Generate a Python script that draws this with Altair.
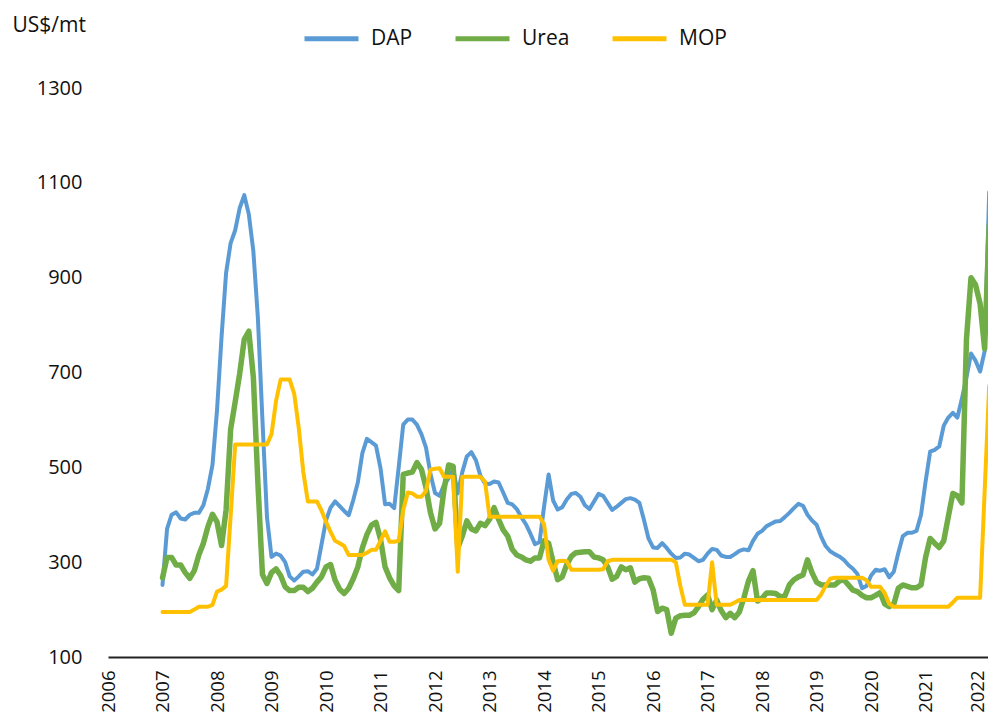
import altair as alt
import pandas as pd

start_year = 2007
series_names = ["DAP", "Urea", "MOP"]
colors = ["#5B9BD5", "#70AD47", "#FFC000"]
year_ticks = list(range(2006, 2023))
y_ticks = [100, 300, 500, 700, 900, 1100, 1300]

# Monthly values, Jan 2007 .. Mar 2022 (US$/mt)
dap = [
    252, 370, 400, 405, 392, 390, 400, 404, 404, 420, 455, 505,        # 2007
    620, 775, 910, 973, 1000, 1047, 1074, 1034, 956, 815, 600, 395,    # 2008
    311, 318, 314, 300, 270, 261, 270, 280, 281, 274, 286, 337,        # 2009
    388, 415, 428, 418, 408, 399, 431, 468, 530, 560, 553, 546,        # 2010
    498, 422, 423, 414, 500, 590, 601, 601, 590, 570, 542, 486,        # 2011
    446, 440, 463, 477, 497, 445, 490, 523, 532, 515, 482, 466,        # 2012
    465, 470, 468, 447, 425, 422, 412, 395, 380, 360, 338, 342,        # 2013
    417, 485, 430, 411, 416, 432, 444, 446, 438, 420, 412, 428,        # 2014
    444, 440, 425, 410, 417, 425, 433, 435, 432, 425, 389, 350,        # 2015
    331, 330, 340, 330, 318, 309, 310, 318, 316, 309, 302, 305,        # 2016
    318, 328, 326, 314, 311, 311, 317, 324, 327, 325, 345, 360,        # 2017
    366, 376, 381, 386, 387, 395, 404, 414, 423, 419, 400, 388,        # 2018
    379, 354, 334, 323, 317, 312, 305, 294, 286, 275, 245, 250,        # 2019
    272, 284, 282, 285, 268, 280, 320, 355, 362, 362, 366, 400,        # 2020
    470, 533, 537, 544, 588, 605, 615, 605, 645, 690, 740, 725,        # 2021
    702, 745, 1080,                                                    # 2022
]
urea = [
    267, 310, 310, 294, 294, 278, 266, 282, 315, 340, 375, 401,
    385, 335, 410, 580, 638, 698, 770, 787, 690, 468, 274, 255,
    278, 286, 272, 248, 240, 240, 247, 247, 238, 245, 258, 269,
    290, 295, 262, 243, 234, 245, 265, 290, 330, 358, 378, 384,
    348, 290, 267, 250, 240, 485, 488, 490, 510, 496, 458, 404,
    370, 382, 455, 505, 502, 330, 355, 387, 370, 366, 382, 377,
    390, 415, 390, 368, 355, 327, 315, 311, 305, 302, 309, 309,
    345, 340, 300, 263, 269, 295, 312, 320, 321, 322, 322, 311,
    309, 305, 290, 264, 270, 290, 284, 288, 258, 265, 267, 266,
    242, 196, 203, 200, 150, 182, 187, 188, 188, 193, 206, 222,
    231, 200, 220, 198, 183, 192, 183, 195, 225, 260, 282, 218,
    224, 235, 235, 234, 227, 228, 252, 263, 269, 273, 305, 278,
    258, 252, 252, 252, 252, 260, 263, 252, 241, 238, 230, 225,
    225, 230, 236, 212, 206, 212, 245, 252, 249, 246, 246, 252,
    310, 350, 340, 331, 345, 396, 445, 440, 425, 770, 900, 885,
    845, 750, 1010,
]
mop = [
    195, 195, 195, 195, 195, 195, 195, 200, 206, 206, 206, 210,
    238, 242, 250, 397, 548, 548, 548, 548, 548, 548, 548, 548,
    570, 640, 685, 685, 685, 655, 583, 490, 428, 428, 428, 409,
    385, 364, 345, 340, 334, 315, 315, 315, 315, 320, 326, 326,
    345, 365, 343, 343, 345, 410, 447, 445, 438, 438, 450, 495,
    497, 498, 480, 480, 480, 280, 480, 480, 480, 480, 480, 470,
    396, 396, 396, 396, 396, 396, 396, 396, 396, 396, 396, 396,
    380, 305, 282, 302, 303, 302, 284, 284, 284, 284, 284, 284,
    284, 285, 302, 305, 305, 305, 305, 305, 305, 305, 305, 305,
    305, 305, 305, 305, 305, 300, 250, 210, 210, 210, 210, 210,
    210, 300, 210, 210, 210, 210, 215, 220, 220, 220, 220, 220,
    220, 220, 220, 220, 220, 220, 220, 220, 220, 220, 220, 220,
    220, 232, 250, 265, 267, 267, 267, 267, 267, 267, 267, 262,
    248, 248, 248, 235, 212, 206, 206, 206, 206, 206, 206, 206,
    206, 206, 206, 206, 206, 206, 215, 225, 225, 225, 225, 225,
    225, 449, 672,
]

rows = []
for name, vals in zip(series_names, [dap, urea, mop]):
    for i, v in enumerate(vals):
        rows.append({"t": start_year + i / 12, "value": v, "series": name})
df = pd.DataFrame(rows)

FONT = "Open Sans"
widths = {"DAP": 4, "Urea": 5.5, "MOP": 4}

color = alt.Color(
    "series:N",
    scale=alt.Scale(domain=series_names, range=colors),
    legend=alt.Legend(
        title=None, orient="none", direction="horizontal",
        legendX=194, legendY=-79, padding=0,
        symbolType="stroke", symbolSize=2916, symbolStrokeWidth=5,
        labelFontSize=21, labelFont=FONT, labelColor="#111", labelOffset=10,
        columnPadding=32,
    ),
)
x = alt.X(
    "t:Q",
    scale=alt.Scale(domain=[2006, 2022.145], nice=False, zero=False),
    axis=alt.Axis(
        values=year_ticks, format="d", labelAngle=-90, labelAlign="right",
        labelBaseline="middle", labelPadding=13, ticks=False, grid=False,
        domainColor="#222", domainWidth=2, labelFontSize=18.5, labelFont=FONT,
        labelColor="#111", title=None, labelFlush=False, labelOverlap=False,
        labelOffset=alt.ExprRef("datum.value == 2022 ? -3 : 0"),
    ),
)
y = alt.Y(
    "value:Q",
    scale=alt.Scale(domain=[100, 1300], nice=False, zero=False),
    axis=alt.Axis(
        values=y_ticks, format="d", ticks=False, grid=False, domain=False,
        labelPadding=26, labelFontSize=20, labelFont=FONT, labelColor="#111",
        title="US$/mt", titleAngle=0, titleAlign="left", titleBaseline="middle",
        titleX=-96, titleY=-63, titleFontSize=21, titleFontWeight="normal",
        titleFont=FONT, titleColor="#111",
    ),
)

base = alt.Chart(df).encode(x=x, y=y, color=color)
layers = [
    base.transform_filter(alt.datum.series == name).mark_line(
        strokeWidth=widths[name], strokeCap="round", strokeJoin="round", clip=True
    )
    for name in series_names
]

chart = (
    alt.layer(*layers)
    .properties(
        width=880, height=569,
        autosize=alt.AutoSizeParams(type="none"),
        padding={"left": 100, "top": 80, "right": 0, "bottom": 55},
    )
    .configure_view(stroke=None)
)

chart.save("out.html", embed_options={"renderer": "svg", "actions": False})
